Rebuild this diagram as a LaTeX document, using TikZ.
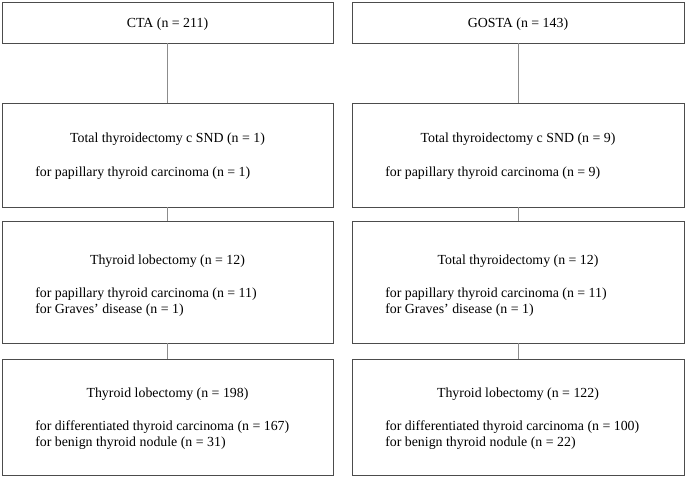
\documentclass[tikz,border=0pt]{standalone}
\usepackage{fontspec}
\setmainfont{Liberation Serif}
\usetikzlibrary{positioning}

\tikzset{
  box/.style={draw=black!70, line width=0.7pt, inner sep=0pt},
  link/.style={draw=black!45, line width=0.7pt},
  title/.style={font=\fontsize{10.4}{12}\selectfont, inner sep=0pt},
  body/.style={font=\fontsize{10.4}{12}\selectfont, align=left, anchor=west, inner sep=0pt}
}

\begin{document}
\begin{tikzpicture}[x=0.75pt, y=-0.75pt]
  \useasboundingbox (0,0) rectangle (685,477);

  % Cohorts
  \node[box, minimum width=331*0.75pt, minimum height=41*0.75pt] (cta) at (167.5,22.5) {};
  \node[box, minimum width=332*0.75pt, minimum height=41*0.75pt] (gosta) at (518,22.5) {};
  \node[title] (ctaT) at (167.5,24) {CTA (n = 211)};
  \node[title] (gostaT) at (518,24) {GOSTA (n = 143)};

  % Total thyroidectomy c SND
  \node[box, minimum width=331*0.75pt, minimum height=104*0.75pt] (ctaSND) at (167.5,155) {};
  \node[box, minimum width=332*0.75pt, minimum height=104*0.75pt] (gostaSND) at (518,155) {};
  \node[title] (ctaSNDT) at (167.5,139) {Total thyroidectomy c SND (n = 1)};
  \node[body] (ctaSNDB) at (35,173) {for papillary thyroid carcinoma (n = 1)};
  \node[title] (gostaSNDT) at (518,139) {Total thyroidectomy c SND (n = 9)};
  \node[body] (gostaSNDB) at (385,173) {for papillary thyroid carcinoma (n = 9)};

  % Second step
  \node[box, minimum width=331*0.75pt, minimum height=122*0.75pt] (ctaLob) at (167.5,282) {};
  \node[box, minimum width=332*0.75pt, minimum height=122*0.75pt] (gostaTot) at (518,282) {};
  \node[title] (ctaLobT) at (167.5,261) {Thyroid lobectomy (n = 12)};
  \node[body] (ctaLobB) at (35,302) {for papillary thyroid carcinoma (n = 11)\\for Graves’ disease (n = 1)};
  \node[title] (gostaTotT) at (518,261) {Total thyroidectomy (n = 12)};
  \node[body] (gostaTotB) at (385,302) {for papillary thyroid carcinoma (n = 11)\\for Graves’ disease (n = 1)};

  % Lobectomy
  \node[box, minimum width=331*0.75pt, minimum height=116*0.75pt] (ctaRest) at (167.5,417) {};
  \node[box, minimum width=332*0.75pt, minimum height=116*0.75pt] (gostaRest) at (518,417) {};
  \node[title] (ctaRestT) at (167.5,394) {Thyroid lobectomy (n = 198)};
  \node[body] (ctaRestB) at (35,435) {for differentiated thyroid carcinoma (n = 167)\\for benign thyroid nodule (n = 31)};
  \node[title] (gostaRestT) at (518,394) {Thyroid lobectomy (n = 122)};
  \node[body] (gostaRestB) at (385,435) {for differentiated thyroid carcinoma (n = 100)\\for benign thyroid nodule (n = 22)};

  % Connectors
  \draw[link] (cta) -- (ctaSND);
  \draw[link] (ctaSND) -- (ctaLob);
  \draw[link] (ctaLob) -- (ctaRest);
  \draw[link] (gosta) -- (gostaSND);
  \draw[link] (gostaSND) -- (gostaTot);
  \draw[link] (gostaTot) -- (gostaRest);
\end{tikzpicture}
\end{document}
